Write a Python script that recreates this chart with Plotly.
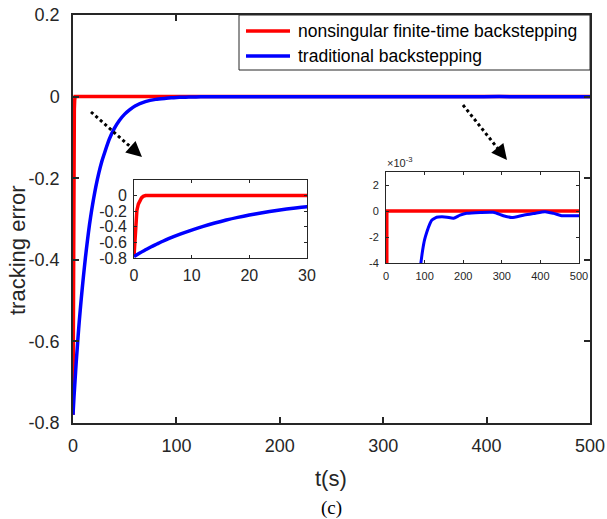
import plotly.graph_objects as go

# ---------------- data ----------------
red_t = [0, 0.15, 0.3, 0.5, 0.75, 1.0, 1.3, 1.6, 2.0, 3, 10, 30, 100, 500]
red_e = [-0.78, -0.58, -0.41, -0.19, -0.11, -0.065, -0.03, -0.01, 0, 0, 0, 0, 0, 0]

blue_t = [0, 1, 2, 3, 4, 5, 6, 8, 10, 12, 14, 16, 18, 20, 22, 25, 28, 30, 35, 40,
          45, 50, 55, 60, 70, 80, 90, 95, 100, 106, 112, 119, 128, 136, 145, 158,
          175, 192, 209, 244, 278, 304, 326, 356, 382, 412, 434, 455, 475, 500]
blue_e = [-0.78, -0.735, -0.695, -0.655, -0.62, -0.585, -0.553, -0.495, -0.443,
          -0.395, -0.352, -0.313, -0.279, -0.249, -0.222, -0.187, -0.158, -0.142,
          -0.105, -0.078, -0.058, -0.043, -0.032, -0.023, -0.0125, -0.0068,
          -0.0041, -0.0030, -0.0022, -0.0016, -0.0011, -0.0007, -0.00052,
          -0.00047, -0.00045, -0.00048, -0.00055, -0.00032, -0.00018, -0.00011,
          -0.00010, -0.00036, -0.00050, -0.00032, -0.00020, -0.00005, -0.00018,
          -0.00036, -0.00037, -0.00036]

series_names = ["nonsingular finite-time backstepping", "traditional backstepping"]

main_xticks = [0, 100, 200, 300, 400, 500]
main_yticks = [-0.8, -0.6, -0.4, -0.2, 0, 0.2]
main_yticktext = ["-0.8", "-0.6", "-0.4", "-0.2", "0", "0.2"]

in1_xticks = [0, 10, 20, 30]
in1_yticks = [-0.8, -0.6, -0.4, -0.2, 0]
in1_yticktext = ["-0.8", "-0.6", "-0.4", "-0.2", "0"]

in2_xticks = [0, 100, 200, 300, 400, 500]
in2_yticks = [-0.004, -0.002, 0, 0.002]
in2_yticktext = ["-4", "-2", "0", "2"]

RED = "#ff0000"
BLUE = "#0000ff"
AX = "#262626"
FONT = "Liberation Sans, Arial, sans-serif"

# ---------------- geometry helpers (pixels -> paper) ----------------
W, H = 607, 519
L, R, T, B = 73, 17, 15, 96
PW, PH = W - L - R, H - T - B


def px(xp):
    return (xp - L) / PW


def py(yp):
    return (H - B - yp) / PH


fig = go.Figure()

for (xa, ya) in [("x", "y"), ("x2", "y2"), ("x3", "y3")]:
    fig.add_trace(go.Scatter(x=red_t, y=red_e, mode="lines", name=series_names[0],
                             line=dict(color=RED, width=3.5), xaxis=xa, yaxis=ya,
                             showlegend=False))
    fig.add_trace(go.Scatter(x=blue_t, y=blue_e, mode="lines", name=series_names[1],
                             line=dict(color=BLUE, width=3.5 if xa != "x3" else 3,
                                       shape="spline", smoothing=0.6),
                             xaxis=xa, yaxis=ya, showlegend=False))

common = dict(showline=True, linecolor=AX, mirror="ticks", ticks="inside",
              tickcolor=AX, showgrid=False, zeroline=False, automargin=False,
              tickfont=dict(family=FONT, color=AX))

fig.update_layout(
    width=W, height=H,
    margin=dict(l=L, r=R, t=T, b=B, autoexpand=False),
    paper_bgcolor="white", plot_bgcolor="white",
    font=dict(family=FONT, color=AX),
    showlegend=False,
    xaxis=dict(common, domain=[0, 1], range=[0, 500], tickvals=main_xticks,
               ticklen=6, linewidth=1.5, tickwidth=1.5, anchor="y",
               tickfont=dict(family=FONT, color=AX, size=18), ticklabelstandoff=6),
    yaxis=dict(common, domain=[0, 1], range=[-0.8, 0.2], tickvals=main_yticks,
               ticktext=main_yticktext, ticklen=6, linewidth=1.5, tickwidth=1.5,
               anchor="x", tickfont=dict(family=FONT, color=AX, size=18),
               ticklabelstandoff=8),
    xaxis2=dict(common, domain=[px(134), px(307)], range=[0, 30], tickvals=in1_xticks,
                ticklen=3, linewidth=1, anchor="y2",
                tickfont=dict(family=FONT, color=AX, size=16), ticklabelstandoff=3),
    yaxis2=dict(common, domain=[py(258), py(180)], range=[-0.8, 0.2],
                tickvals=in1_yticks, ticktext=in1_yticktext, ticklen=3, linewidth=1,
                anchor="x2", tickfont=dict(family=FONT, color=AX, size=16),
                ticklabelstandoff=3),
    xaxis3=dict(common, domain=[px(386), px(579)], range=[0, 500], tickvals=in2_xticks,
                ticklen=3, linewidth=1, anchor="y3",
                tickfont=dict(family=FONT, color=AX, size=11), ticklabelstandoff=3),
    yaxis3=dict(common, domain=[py(263), py(172)], range=[-0.004, 0.003],
                tickvals=in2_yticks, ticktext=in2_yticktext, ticklen=3, linewidth=1,
                anchor="x3", tickfont=dict(family=FONT, color=AX, size=11),
                ticklabelstandoff=4),
)

# legend box (drawn in paper coordinates)
fig.add_shape(type="rect", xref="paper", yref="paper", x0=px(239), x1=px(590),
              y0=py(70), y1=py(15), line=dict(color=AX, width=1), fillcolor="white",
              layer="above")
for i, (name, col) in enumerate(zip(series_names, [RED, BLUE])):
    yy = 31 + i * 25
    fig.add_shape(type="line", xref="paper", yref="paper", x0=px(246), x1=px(290),
                  y0=py(yy), y1=py(yy), line=dict(color=col, width=3.5), layer="above")
    fig.add_annotation(xref="paper", yref="paper", x=px(296), y=py(yy), text=name,
                       showarrow=False, xanchor="left", yanchor="middle",
                       font=dict(family=FONT, size=17.5, color="black"))

# dotted arrow shafts with arrowheads
arrows = [((91, 112), (142, 157)), ((463, 105), (507, 160))]
for (x0, y0), (x1, y1) in arrows:
    dx, dy = x1 - x0, y1 - y0
    n = (dx * dx + dy * dy) ** 0.5
    bx, by = x1 - 13 * dx / n, y1 - 13 * dy / n
    fig.add_shape(type="line", xref="paper", yref="paper",
                  x0=px(x0), y0=py(y0), x1=px(bx), y1=py(by),
                  line=dict(color="black", width=3, dash="3px,3px"))
    fig.add_annotation(xref="paper", yref="paper", x=px(x1), y=py(y1), text="",
                       showarrow=True, arrowhead=2, arrowsize=3.1, arrowwidth=1,
                       arrowcolor="black", ax=-(dx / n) * 12, ay=-(dy / n) * 12,
                       standoff=0)

# axis titles & caption
fig.add_annotation(xref="paper", yref="paper", x=px(18), y=py(250), text="tracking error",
                   textangle=-90, showarrow=False, xanchor="center", yanchor="middle",
                   font=dict(family=FONT, size=22, color=AX))
fig.add_annotation(xref="paper", yref="paper", x=px(331), y=py(478), text="t(s)",
                   showarrow=False, xanchor="center", yanchor="middle",
                   font=dict(family=FONT, size=22, color=AX))
fig.add_annotation(xref="paper", yref="paper", x=px(331), y=py(508), text="(c)",
                   showarrow=False, xanchor="center", yanchor="middle",
                   font=dict(family="Liberation Serif, Times New Roman, serif", size=19,
                             color="black"))
# exponent label of inset 2
fig.add_annotation(xref="paper", yref="paper", x=px(385), y=py(171),
                   text="×10<sup>-3</sup>", showarrow=False, xanchor="left",
                   yanchor="bottom", font=dict(family=FONT, size=11, color=AX))

fig.write_html("out.html")
